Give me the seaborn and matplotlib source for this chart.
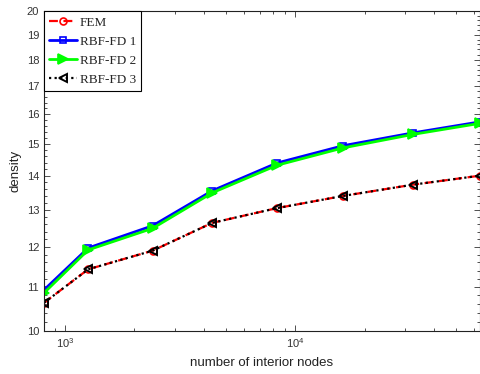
import numpy as np
import pandas as pd
import matplotlib
matplotlib.use("Agg")
import matplotlib.pyplot as plt
import seaborn as sns
from matplotlib.ticker import FixedLocator, FixedFormatter, NullFormatter, LogLocator

# ---- data ----
nodes = [810, 1260, 2400, 4360, 8340, 16180, 32500, 63500]
fem = [10.63, 11.43, 11.90, 12.64, 13.05, 13.40, 13.73, 14.00]
rbf1 = [10.93, 11.97, 12.56, 13.55, 14.39, 14.94, 15.36, 15.73]
rbf2 = [10.86, 11.92, 12.49, 13.49, 14.32, 14.87, 15.31, 15.68]
rbf3 = [10.63, 11.43, 11.90, 12.64, 13.05, 13.40, 13.73, 14.00]
series_names = ["FEM", "RBF-FD 1", "RBF-FD 2", "RBF-FD 3"]
y_ticks = list(range(10, 21))
x_label = "number of interior nodes"
y_label = "density"

sns.set_style("ticks")
plt.rcParams['font.family'] = ['Liberation Sans', 'DejaVu Sans']
plt.rcParams['mathtext.fontset'] = 'custom'
plt.rcParams['mathtext.rm'] = 'Liberation Sans'

fig = plt.figure(figsize=(4.81, 3.74), dpi=100)
ax = fig.add_axes([0.0915, 0.115, 0.9065, 0.8556])

styles = [
    dict(color="#ff0000", linestyle=(0, (4, 2.5)), marker="o", markersize=5,
         markerfacecolor="none", markeredgecolor="#ff0000", markeredgewidth=1.2, linewidth=1.6),
    dict(color="#0000ff", linestyle="-", marker="s", markersize=5,
         markerfacecolor="none", markeredgecolor="#0000ff", markeredgewidth=1.2, linewidth=2.0),
    dict(color="#00ff00", linestyle="-", marker=">", markersize=7,
         markerfacecolor="#00ff00", markeredgecolor="#00ff00", markeredgewidth=1.2, linewidth=2.0),
    dict(color="#000000", linestyle=(0, (1, 1.5)), marker="<", markersize=6,
         markerfacecolor="none", markeredgecolor="#000000", markeredgewidth=1.4, linewidth=1.6),
]
for name, vals, st in zip(series_names, [fem, rbf1, rbf2, rbf3], styles):
    n_before = len(ax.lines)
    sns.lineplot(x=nodes, y=vals, ax=ax, color=st["color"], legend=False)
    line = ax.lines[n_before]
    line.set(**st)
    line.set_label(name)

ax.set_xscale("log")
ax.set_yscale("log")
ax.set_xlim(nodes[0], nodes[-1])
ax.set_ylim(10, 20)

ax.yaxis.set_major_locator(FixedLocator(y_ticks))
ax.yaxis.set_major_formatter(FixedFormatter([str(t) for t in y_ticks]))
ax.yaxis.set_minor_locator(FixedLocator([v for v in np.arange(10, 20, 0.2) if abs(v - round(v)) > 1e-6]))
ax.yaxis.set_minor_formatter(NullFormatter())
ax.xaxis.set_major_locator(LogLocator(base=10))
ax.xaxis.set_minor_locator(LogLocator(base=10, subs=np.arange(2, 10)))
ax.xaxis.set_minor_formatter(NullFormatter())

ax.tick_params(axis="both", which="both", direction="in", top=True, right=True,
               labelsize=8, colors="#333333", width=0.6)
ax.tick_params(which="major", length=4)
ax.tick_params(which="minor", length=2)
for sp in ax.spines.values():
    sp.set_linewidth(0.8)
    sp.set_color("#222222")

ax.set_xlabel(x_label, fontsize=9.5, color="#222222", labelpad=5)
ax.set_ylabel(y_label, fontsize=9.5, color="#222222", labelpad=4)

leg = ax.legend(loc="upper left", borderaxespad=0, frameon=True, fancybox=False,
                prop={"family": "Liberation Serif", "size": 9.5},
                handlelength=2.1, handletextpad=0.2, labelspacing=0.52,
                borderpad=0.4)
leg.get_frame().set_edgecolor("black")
leg.get_frame().set_linewidth(0.8)
leg.get_frame().set_alpha(1)

fig.savefig("out.png", dpi=100)
